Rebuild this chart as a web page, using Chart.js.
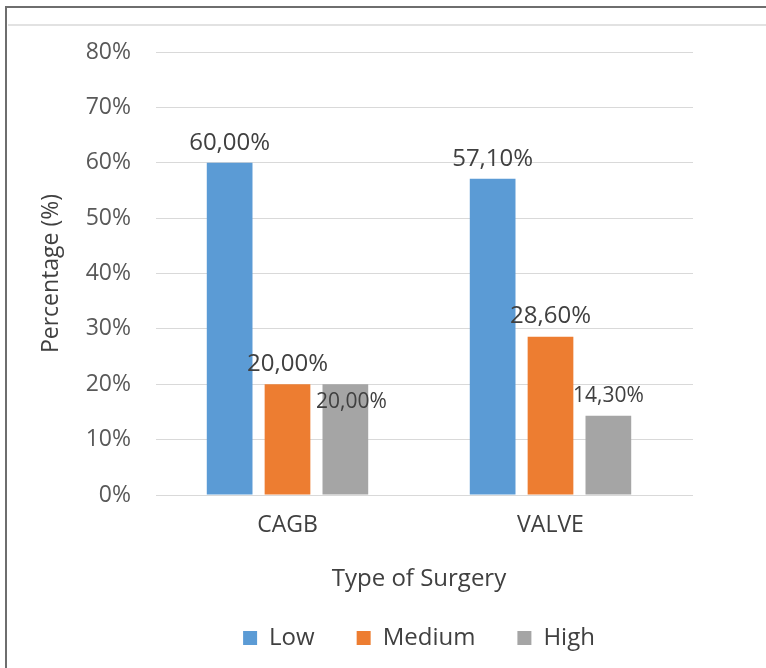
<!DOCTYPE html>
<html>
<head>
<meta charset="utf-8">
<script src="https://cdn.jsdelivr.net/npm/chart.js@4/dist/chart.umd.min.js"></script>
<style>
    html, body { margin: 0; padding: 0; background: #fff; }
    #marco {
        position: absolute; left: 5px; top: 6px; width: 761px; height: 662px;
        border-top: 2px solid #6e6e6e; border-left: 2px solid #6e6e6e;
    }
    #linea {
        position: absolute; left: 8px; top: 24px; width: 758px;
        border-top: 2px solid #e2e2e2;
    }
    #lienzo { position: absolute; left: 0; top: 0; }
</style>
</head>
<body>
<div id="marco"></div>
<div id="linea"></div>
<canvas id="lienzo" width="766" height="668"></canvas>
<script>
// ============================
// DATOS
// ============================

const categorias = ["CAGB", "VALVE"];
const series = ["Low", "Medium", "High"];
const valoresLow = [60.0, 57.1];
const valoresMedium = [20.0, 28.6];
const valoresHigh = [20.0, 14.3];
const colores = ["#5B9BD5", "#ED7D31", "#A5A5A5"];
const tamanosEtiqueta = [24, 24, 21];

const FUENTE = "'Open Sans', 'Noto Sans', sans-serif";


// ============================
// PLUGINS
// ============================

// Las líneas de la rejilla siguen un poco más allá del área de barras
const extenderRejilla = {
    id: "extenderRejilla",
    beforeDatasetsDraw(chart) {
        const ctx = chart.ctx;
        const y = chart.scales.y;
        const area = chart.chartArea;
        ctx.save();
        ctx.strokeStyle = "#D9D9D9";
        ctx.lineWidth = 1;
        y.ticks.forEach(t => {
            const py = Math.round(y.getPixelForValue(t.value) - 0.5) + 0.5;
            ctx.beginPath();
            ctx.moveTo(area.right, py);
            ctx.lineTo(area.right + 11, py);
            ctx.stroke();
        });
        ctx.restore();
    }
};

// Etiquetas encima de cada barra; si chocan con otra, se bajan
const etiquetasDatos = {
    id: "etiquetasDatos",
    afterDatasetsDraw(chart) {
        const ctx = chart.ctx;
        const puestas = [];
        ctx.save();
        ctx.fillStyle = "#404040";
        ctx.textAlign = "center";
        ctx.textBaseline = "middle";

        chart.data.datasets.forEach((ds, i) => {
            const meta = chart.getDatasetMeta(i);
            const tam = tamanosEtiqueta[i];
            ctx.font = tam + "px " + FUENTE;
            meta.data.forEach((barra, j) => {
                const texto = ds.data[j].toFixed(2).replace(".", ",") + "%";
                const ancho = ctx.measureText(texto).width;
                let x = barra.x;
                let y = barra.y - 20;

                const choque = puestas.find(p =>
                    Math.abs(p.x - x) < (p.ancho + ancho) / 2 &&
                    Math.abs(p.y - y) < (p.tam + tam) / 2
                );
                if (choque) {
                    y = choque.y + 38;
                    x += 6;
                }

                ctx.fillText(texto, x, y);
                puestas.push({ x, y, ancho, tam });
            });
        });
        ctx.restore();
    }
};


// ============================
// GRÁFICA
// ============================

const ctx = document.getElementById("lienzo").getContext("2d");

new Chart(ctx, {
    type: "bar",
    data: {
        labels: categorias,
        datasets: [valoresLow, valoresMedium, valoresHigh].map((valores, i) => ({
            label: series[i],
            data: valores,
            backgroundColor: colores[i],
            categoryPercentage: 0.66,
            barPercentage: 0.79
        }))
    },
    options: {
        responsive: false,
        animation: false,
        layout: {
            padding: { left: 38, right: 84, top: 52, bottom: 8 }
        },
        plugins: {
            tooltip: { enabled: false },
            legend: {
                position: "bottom",
                fullSize: false,
                labels: {
                    boxWidth: 14,
                    boxHeight: 14,
                    padding: 42,
                    color: "#404040",
                    font: { family: FUENTE, size: 24 }
                }
            }
        },
        scales: {
            x: {
                grid: { display: false },
                border: { color: "#D9D9D9" },
                ticks: {
                    color: "#404040",
                    padding: 9,
                    font: { family: FUENTE, size: 23 }
                },
                title: {
                    display: true,
                    text: "Type of Surgery",
                    color: "#404040",
                    padding: { top: 0, bottom: -10 },
                    font: { family: FUENTE, size: 24 }
                },
                afterFit(scale) { scale.height = 89; }
            },
            y: {
                min: 0,
                max: 80,
                grid: { color: "#D9D9D9", drawTicks: false },
                border: { display: false },
                ticks: {
                    stepSize: 10,
                    color: "#595959",
                    padding: 25,
                    font: { family: FUENTE, size: 23 },
                    callback: v => v + "%"
                },
                title: {
                    display: true,
                    text: "Percentage (%)",
                    color: "#404040",
                    padding: 0,
                    font: { family: FUENTE, size: 23 }
                },
                afterFit(scale) { scale.width = 118; }
            }
        }
    },
    plugins: [extenderRejilla, etiquetasDatos]
});
</script>
</body>
</html>
